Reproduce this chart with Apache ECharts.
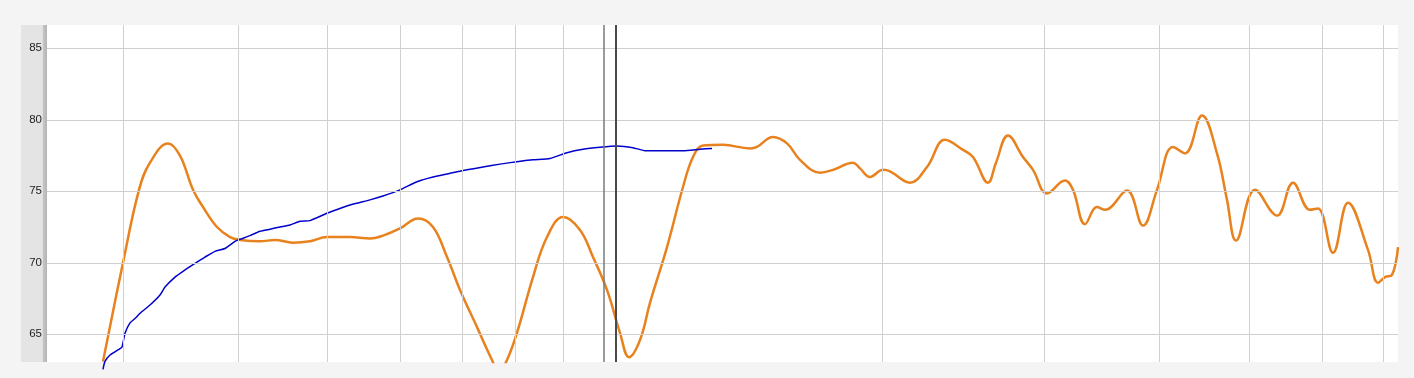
<!DOCTYPE html>
<html>
<head>
<meta charset="utf-8">
<script src="https://cdn.jsdelivr.net/npm/echarts@6/dist/echarts.min.js"></script>
<style>
html,body{margin:0;padding:0;background:#f4f4f4;}
#c{width:1414px;height:378px;}
</style>
</head>
<body>
<div id="c"></div>
<script>
// ---- data ----
const yTicks = [65, 70, 75, 80, 85];
const gridX = [76, 191, 280, 353, 415, 468, 516, 835, 997, 1112, 1202, 1275, 1336];
const markerX = [557, 569];
const orangeX = [56, 76, 92, 103, 121, 133, 146, 156, 170, 183, 193, 213, 228, 246, 263, 280, 303, 323, 336, 353, 371, 386, 400, 413, 430, 445, 452, 460, 470, 486, 500, 516, 533, 546, 560, 573, 582, 593, 603, 620, 636, 646, 656, 676, 703, 710, 726, 740, 753, 773, 786, 806, 813, 823, 836, 843, 863, 880, 898, 916, 926, 941, 949, 961, 976, 986, 1000, 1018, 1026, 1038, 1050, 1058, 1080, 1096, 1110, 1126, 1138, 1155, 1170, 1180, 1189, 1208, 1230, 1246, 1263, 1271, 1286, 1301, 1321, 1331, 1338, 1345, 1351];
const orangeY = [63.1, 70.0, 75.1, 77.0, 78.35, 77.5, 75.1, 73.9, 72.5, 71.8, 71.6, 71.5, 71.6, 71.4, 71.5, 71.8, 71.8, 71.7, 71.9, 72.4, 73.1, 72.5, 70.4, 68.1, 65.5, 63.2, 62.3, 63.2, 65.1, 69.0, 71.8, 73.2, 72.3, 70.4, 68.1, 65.1, 63.4, 64.6, 67.2, 71.1, 75.3, 77.4, 78.2, 78.25, 78.0, 78.1, 78.8, 78.35, 77.2, 76.3, 76.5, 77.0, 76.6, 76.0, 76.5, 76.4, 75.6, 76.7, 78.6, 77.9, 77.4, 75.6, 77.0, 78.9, 77.4, 76.5, 74.85, 75.75, 75.1, 72.7, 73.9, 73.7, 75.05, 72.6, 75.1, 78.1, 77.65, 80.3, 77.65, 74.4, 71.55, 75.1, 73.3, 75.6, 73.7, 73.8, 70.7, 74.2, 70.9, 68.6, 69.0, 69.15, 71.1];
const blueX = [56, 58, 63, 73, 75, 78, 83, 88, 93, 103, 113, 118, 128, 138, 148, 158, 168, 178, 188, 193, 203, 213, 223, 233, 243, 253, 263, 280, 303, 323, 336, 353, 370, 386, 403, 420, 436, 453, 470, 486, 503, 520, 536, 553, 570, 586, 598, 620, 636, 653, 665];
const blueY = [62.55, 63.1, 63.55, 64.0, 64.1, 65.07, 65.8, 66.1, 66.47, 67.05, 67.75, 68.3, 69.0, 69.5, 69.96, 70.4, 70.8, 71.0, 71.5, 71.64, 71.9, 72.2, 72.35, 72.5, 72.64, 72.9, 72.95, 73.46, 74.04, 74.4, 74.67, 75.1, 75.67, 76.0, 76.26, 76.5, 76.7, 76.9, 77.07, 77.2, 77.3, 77.7, 77.94, 78.08, 78.17, 78.05, 77.84, 77.84, 77.84, 77.94, 78.0];

const zip = (xs, ys) => xs.map((x, i) => [x, ys[i]]);

const chart = echarts.init(document.getElementById('c'), null, {renderer: 'canvas'});
chart.setOption({
  animation: false,
  backgroundColor: '#f4f4f4',
  grid: {left: 47, right: 16, top: 25, bottom: 16, show: true, backgroundColor: '#ffffff', borderWidth: 0},
  graphic: [{
    type: 'rect', left: 21, top: 25, z: -10,
    shape: {width: 26, height: 337},
    style: {fill: new echarts.graphic.LinearGradient(0, 0, 1, 0, [
      {offset: 0, color: '#e4e4e4'}, {offset: 0.82, color: '#e4e4e4'},
      {offset: 0.86, color: '#c4c4c4'}, {offset: 1, color: '#b4b4b4'}])}
  }],
  xAxis: {type: 'value', min: 0, max: 1351, show: false, splitLine: {show: false}},
  yAxis: {
    type: 'value', min: 63.06, max: 86.63,
    axisLine: {show: false}, axisTick: {show: false}, splitLine: {show: false},
    axisLabel: {customValues: yTicks, color: '#222', fontSize: 11.5, fontFamily: 'Liberation Sans, Arial, sans-serif', margin: 5}
  },
  series: [
    {
      type: 'line', data: [], silent: true, z: 1,
      markLine: {
        silent: true, symbol: 'none', label: {show: false}, animation: false,
        lineStyle: {color: '#d0d0d0', width: 1, type: 'solid'},
        data: yTicks.map(v => ({yAxis: v})).concat(gridX.map(v => ({xAxis: v})))
      }
    },
    {
      type: 'line', data: [], silent: true, z: 2,
      markLine: {
        silent: true, symbol: 'none', label: {show: false}, animation: false,
        data: [
          {xAxis: markerX[0], lineStyle: {color: '#7a7a7a', width: 1.5, type: 'solid'}},
          {xAxis: markerX[1], lineStyle: {color: '#4a4a4a', width: 2, type: 'solid'}}
        ]
      }
    },
    {
      type: 'line', data: zip(orangeX, orangeY), smooth: 0.4, showSymbol: false, z: 3,
      lineStyle: {color: '#E8821E', width: 2.5}, itemStyle: {color: '#E8821E'}, clip: true
    },
    {
      type: 'line', data: zip(blueX, blueY), smooth: 0.2, showSymbol: false, z: 4,
      lineStyle: {color: '#0000CC', width: 1.5}, itemStyle: {color: '#0000CC'}, clip: false
    }
  ]
});
</script>
</body>
</html>
